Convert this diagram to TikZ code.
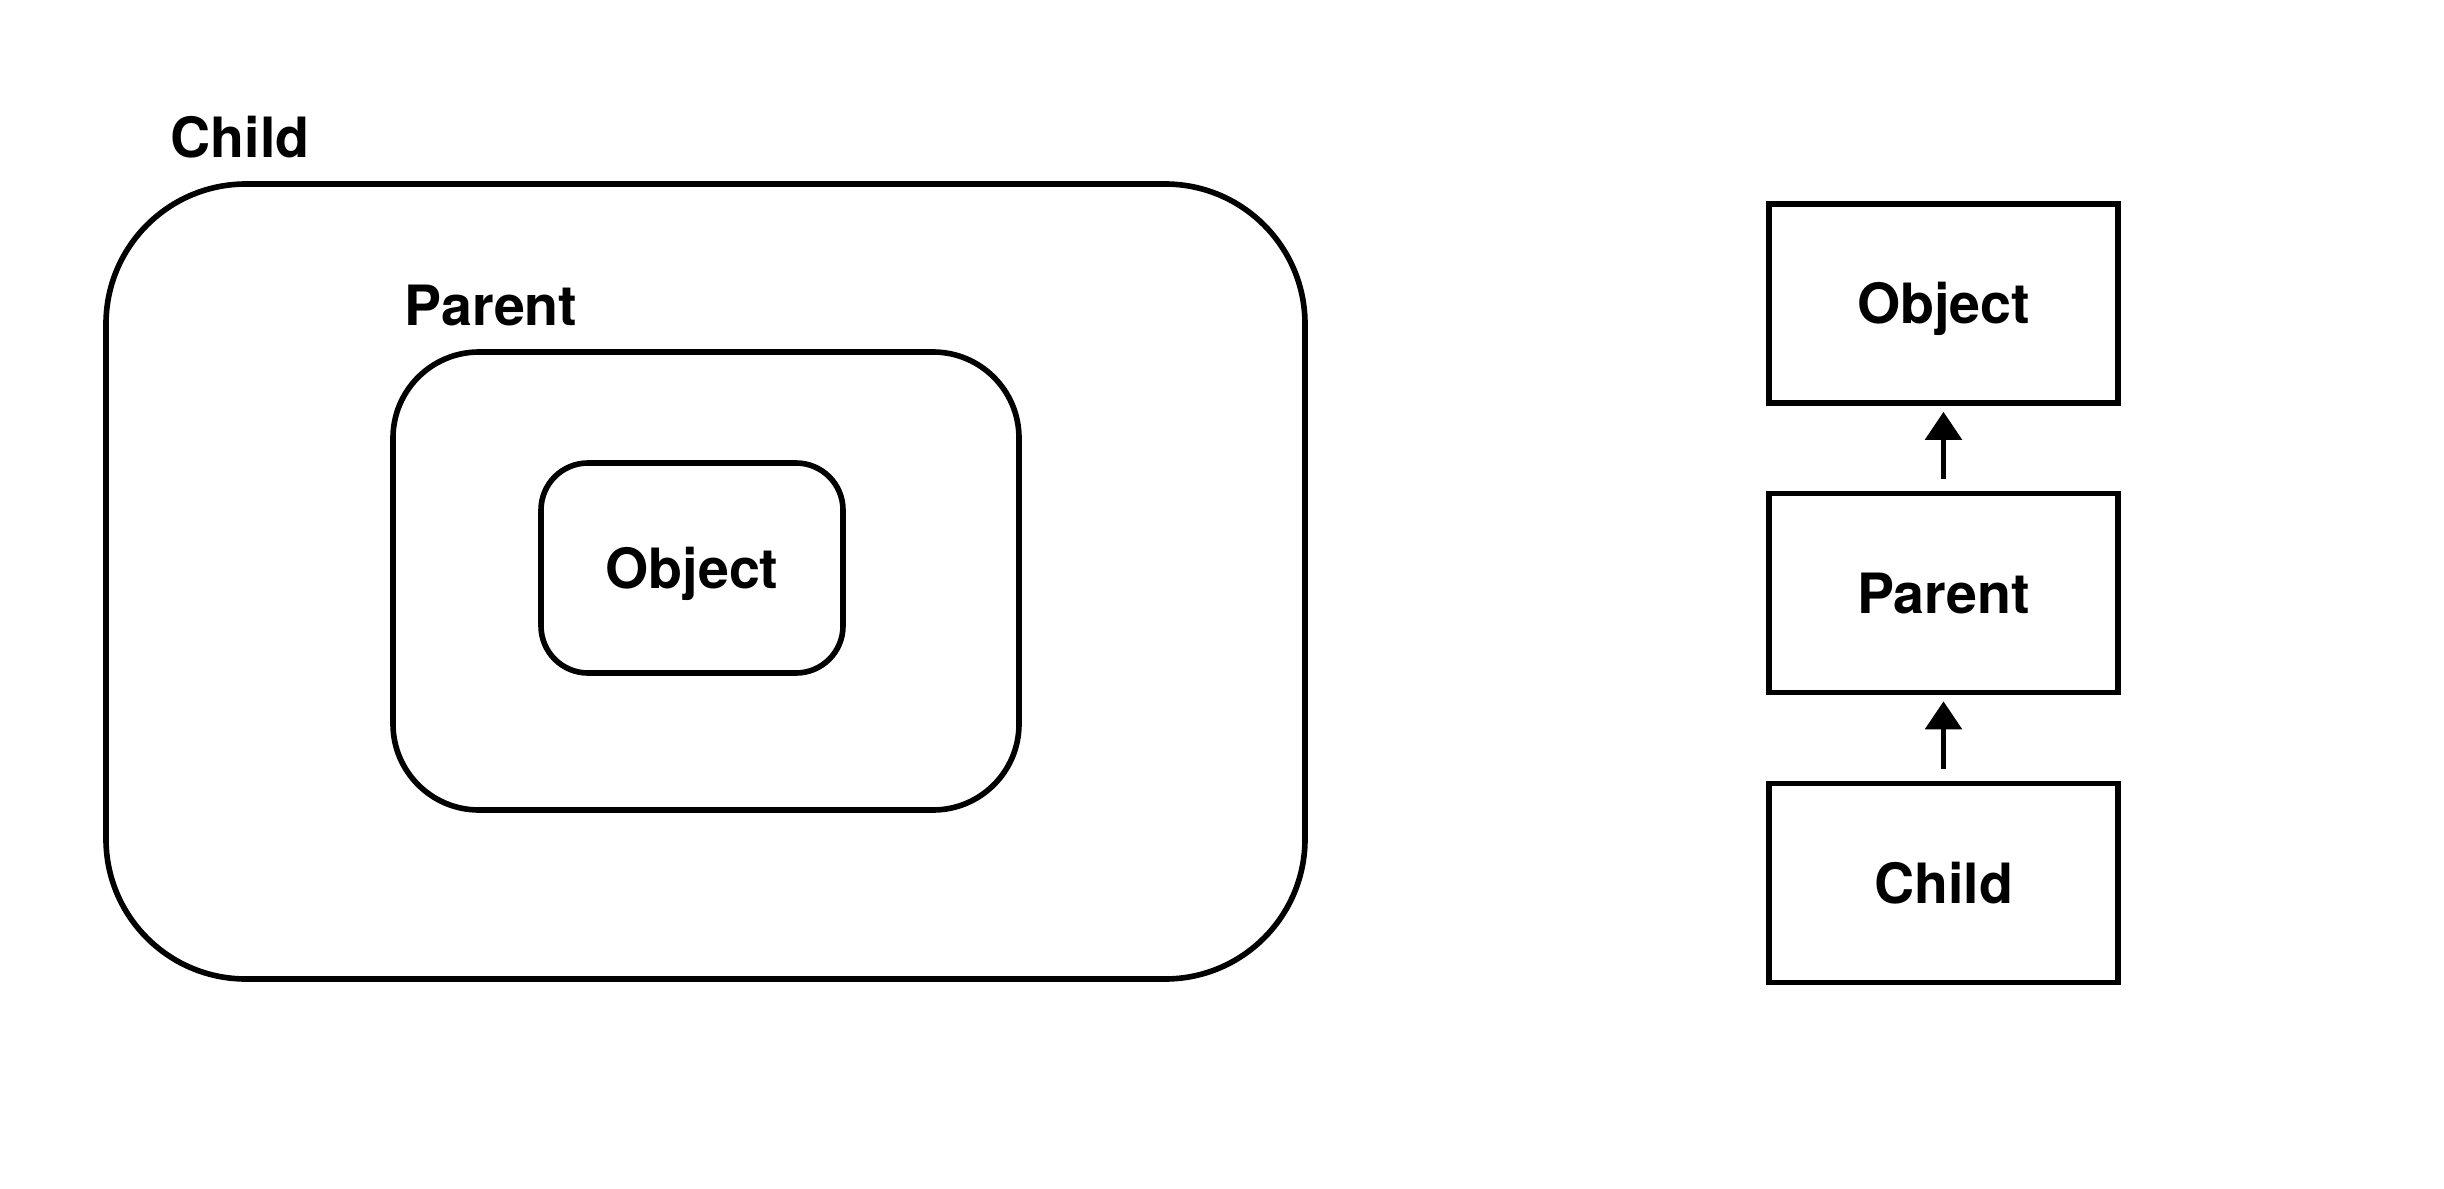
\documentclass[tikz,border=0pt]{standalone}
\usepackage{fontspec}
\setmainfont{TeX Gyre Heros}
\usetikzlibrary{arrows.meta}
\begin{document}
\begin{tikzpicture}[>={Triangle[width=0.36cm,length=0.28cm]},
		lbl/.style={font=\fontsize{15.8}{18}\selectfont\bfseries, inner sep=0pt, text height=11.4pt, text depth=0pt},
		nest/.style={draw, line width=1.6pt, inner sep=0pt},
		cls/.style={draw, line width=1.6pt, minimum width=3.49cm, minimum height=1.99cm, inner sep=0pt, lbl}]
	\useasboundingbox (0,0) rectangle (24.44,11.88);
	% nested view: each class wraps the one it extends
	\node[nest, rounded corners=1.4cm, minimum width=11.99cm, minimum height=7.95cm] (outer) at (7.055,6.065) {};
	\node[nest, rounded corners=0.86cm, minimum width=6.26cm, minimum height=4.58cm] (mid) at (7.06,6.07) {};
	\node[nest, rounded corners=0.47cm, minimum width=3.02cm, minimum height=2.10cm, lbl] (inner) at (6.92,6.20) {Object};
	\node[lbl] (childtag) at (2.40,10.51) {Child};
	\node[lbl] (parenttag) at (4.91,8.83) {Parent};
	% chain view
	\node[cls] (obj) at (19.435,8.845) {Object};
	\node[cls] (par) at (19.435,5.95) {Parent};
	\node[cls] (chd) at (19.435,3.05) {Child};
	\draw[->, line width=1.6pt, shorten <=0.12cm, shorten >=0.06cm] (par) -- (obj);
	\draw[->, line width=1.6pt, shorten <=0.12cm, shorten >=0.06cm] (chd) -- (par);
\end{tikzpicture}
\end{document}
